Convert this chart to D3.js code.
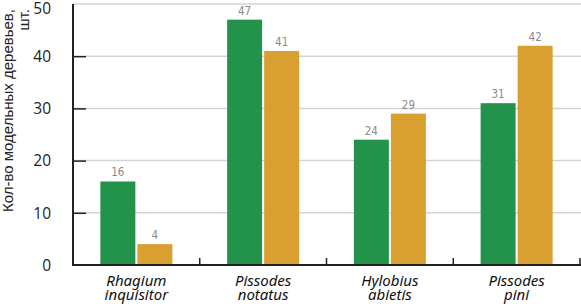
<!DOCTYPE html>
<html><head><meta charset="utf-8">
<script src="https://cdn.jsdelivr.net/npm/d3@7"></script>
<style>
html,body{margin:0;padding:0;background:#fff;}
svg{display:block;}
</style></head>
<body>
<script>
const categories = [["Rhagium","inquisitor"],["Pissodes","notatus"],["Hylobius","abietis"],["Pissodes","pini"]];
const seriesGreen = [16, 47, 24, 31];
const seriesOrange = [4, 41, 29, 42];
const yTicks = [0, 10, 20, 30, 40, 50];
const yTitle = ["Кол-во модельных деревьев,", "шт."];

const W = 581, H = 306;
const m = {left: 73, right: 1, top: 4, bottom: 41};
const svg = d3.select("body").append("svg").attr("width", W).attr("height", H);

const x = d3.scaleBand().domain(d3.range(categories.length)).range([m.left, W - m.right]);
const y = d3.scaleLinear().domain([0, 50]).range([H - m.bottom, m.top]);
const sub = d3.scaleBand().domain([0, 1]).range([0, 72]).paddingInner(0.055);

// gridlines
svg.append("g").selectAll("line").data(yTicks.filter(d => d > 0)).join("line")
  .attr("x1", m.left).attr("x2", W).attr("y1", d => y(d)).attr("y2", d => y(d))
  .attr("stroke", "#d4d4d4").attr("stroke-width", 1.5);

// bars
const colors = ["#23924a", "#d9a031"];
const series = [seriesGreen, seriesOrange];
series.forEach((s, si) => {
  svg.append("g").selectAll("rect").data(s).join("rect")
    .attr("x", (d, i) => x(i) + x.bandwidth() / 2 - 36 + sub(si))
    .attr("width", sub.bandwidth())
    .attr("y", d => y(d))
    .attr("height", d => y(0) - y(d))
    .attr("fill", colors[si]);
  svg.append("g").selectAll("text").data(s).join("text")
    .attr("x", (d, i) => x(i) + x.bandwidth() / 2 - 36 + sub(si) + sub.bandwidth() / 2)
    .attr("y", d => y(d) - 5)
    .attr("text-anchor", "middle")
    .attr("font-family", "'Liberation Sans Narrow','DejaVu Sans Condensed',sans-serif")
    .attr("font-size", 11.5)
    .attr("fill", "#8a8a8a")
    .text(d => d);
});

// y axis
const yAxis = d3.axisLeft(y).tickValues(yTicks).tickSize(-13).tickPadding(22);
const ga = svg.append("g").attr("transform", `translate(${m.left},0)`).call(yAxis);
ga.select(".domain").remove();
ga.selectAll(".tick line").attr("stroke", "#222").attr("stroke-width", 1.5)
  .filter(d => d === 50 || d === 0).remove();
ga.selectAll(".tick text").attr("font-family", "'Open Sans',sans-serif").attr("font-size", 15.5)
  .attr("fill", "#222").attr("dy", d => d === 50 ? "0.6em" : "0.34em");

// axis lines
svg.append("line").attr("x1", m.left).attr("x2", m.left).attr("y1", y(50)).attr("y2", y(0) + 1)
  .attr("stroke", "#222").attr("stroke-width", 2);
svg.append("line").attr("x1", m.left - 1).attr("x2", W).attr("y1", y(0)).attr("y2", y(0))
  .attr("stroke", "#222").attr("stroke-width", 2);

// x category boundary ticks
svg.append("g").selectAll("line").data(d3.range(1, categories.length + 1)).join("line")
  .attr("x1", i => x(i - 1) + x.bandwidth()).attr("x2", i => x(i - 1) + x.bandwidth())
  .attr("y1", y(0)).attr("y2", y(0) - 7)
  .attr("stroke", "#222").attr("stroke-width", 1.5);

// category labels
const cl = svg.append("g").selectAll("text").data(categories).join("text")
  .attr("text-anchor", "middle")
  .attr("font-family", "'Noto Sans',sans-serif").attr("font-style", "italic")
  .attr("font-size", 15).attr("fill", "#111");
cl.each(function(d, i) {
  const t = d3.select(this);
  d.forEach((line, li) => {
    t.append("tspan").attr("x", x(i) + x.bandwidth() / 2).attr("y", 286 + li * 13.5).text(line);
  });
});

// y title
const yt = svg.append("text").attr("transform", "rotate(-90)")
  .attr("text-anchor", "end")
  .attr("font-family", "'Liberation Sans',sans-serif").attr("font-size", 15).attr("fill", "#222");
yTitle.forEach((line, li) => {
  yt.append("tspan").attr("x", -9).attr("y", 13 + li * 16).text(line);
});
</script>
</body></html>
